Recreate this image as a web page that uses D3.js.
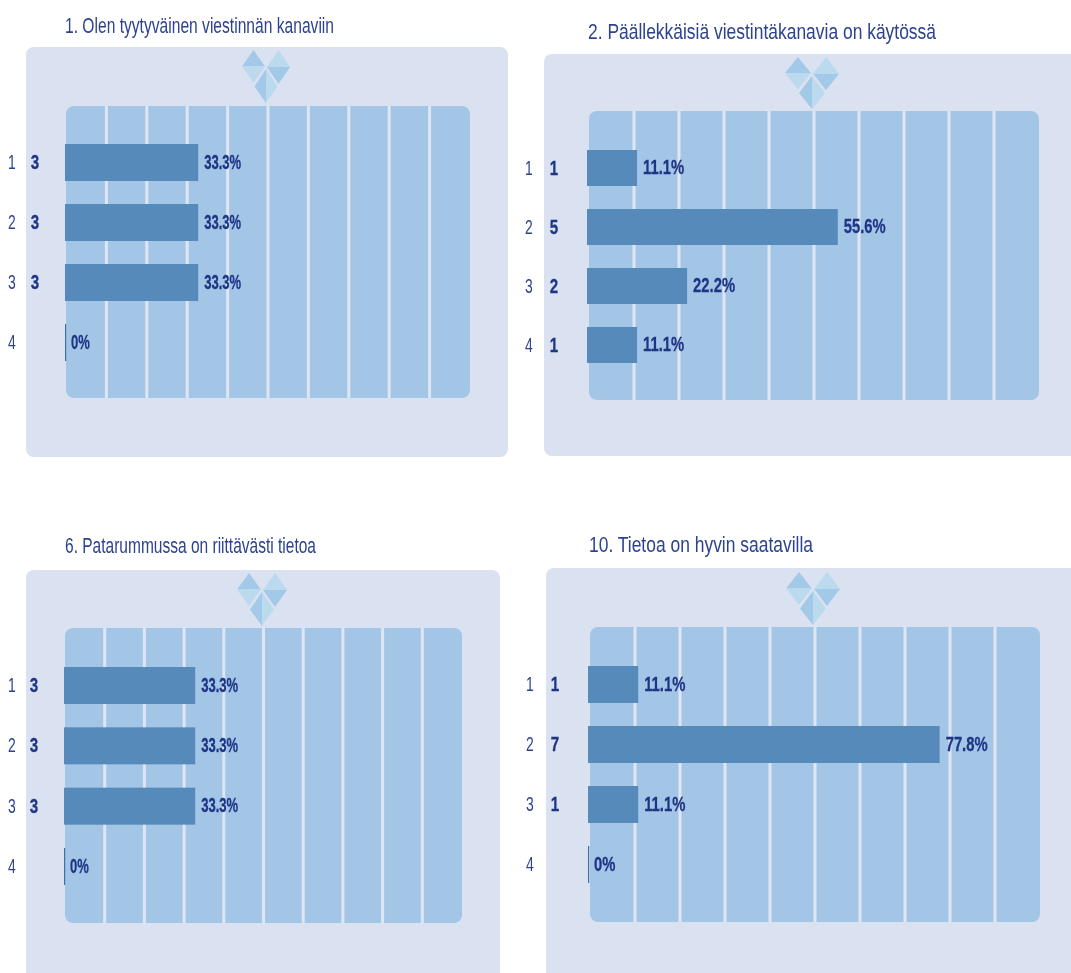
<!DOCTYPE html>
<html><head><meta charset="utf-8">
<script src="https://cdnjs.cloudflare.com/ajax/libs/d3/7.8.5/d3.min.js"></script>
<style>html,body{margin:0;padding:0;background:#fff;overflow:hidden}svg{display:block}</style>
</head><body><svg id="c" width="1071" height="973"></svg>
<script>
const titles = ["1. Olen tyytyväinen viestinnän kanaviin","2. Päällekkäisiä viestintäkanavia on käytössä","6. Patarummussa on riittävästi tietoa","10. Tietoa on hyvin saatavilla"];
const categories = ["1","2","3","4"];
const counts1 = [3,3,3,0];
const counts2 = [1,5,2,1];
const counts6 = [3,3,3,0];
const counts10 = [1,7,1,0];
const pct1 = [33.3,33.3,33.3,0];
const pct2 = [11.1,55.6,22.2,11.1];
const pct6 = [33.3,33.3,33.3,0];
const pct10 = [11.1,77.8,11.1,0];
const pctLabels = p => p === 0 ? "0%" : p.toFixed(1) + "%";

const layout = [
 {tx:65,ty:33,tw:269,bg:[26,47,482,410],plot:[66,106,404,292],bar0:65,barW:400,rows:[144,324],bh:37,lab:12,val:35,logo:[266,50,48,53],sx:.62,counts:counts1,pct:pct1},
 {tx:588,ty:39,tw:348,bg:[544,54,540,402],plot:[589,111,450,289],bar0:587,barW:451,rows:[150,327],bh:36,lab:529,val:554,logo:[812,57,54,52],sx:.705,counts:counts2,pct:pct2},
 {tx:65,ty:553,tw:251,bg:[26,570,474,420],plot:[65,628,397,295],bar0:64,barW:394,rows:[667,848],bh:37,lab:12,val:34,logo:[262,573,50,53],sx:.62,counts:counts6,pct:pct6},
 {tx:589,ty:552,tw:224,bg:[546,568,540,420],plot:[590,627,450,295],bar0:588,barW:452,rows:[666,846],bh:37,lab:530,val:555,logo:[813,572,54,53],sx:.705,counts:counts10,pct:pct10}
];
const svg = d3.select("#c");
const defs = svg.append("defs");
defs.append("filter").attr("id","soft").attr("x","-5%").attr("y","-5%").attr("width","110%").attr("height","110%")
  .append("feGaussianBlur").attr("stdDeviation",0.4);
const root = svg.append("g").attr("filter","url(#soft)");
const FONT = "'Liberation Sans',Arial,sans-serif";
const TXT = "#2d4390", VAL = "#1f3585", BG="#dae1f0", PLOT="#a3c6e7", BAR="#548abb", GRID="#dfe6f3";

function logo(g,[cx,top,w,h]){
  const x = d3.scaleLinear().domain([-1,1]).range([cx-w/2,cx+w/2]);
  const y = d3.scaleLinear().domain([0,1]).range([top,top+h]);
  const dia = (c,m,hw,t,b) => ({L:[x(c-hw),y(m)],R:[x(c+hw),y(m)],T:[x(c),y(t)],B:[x(c),y(b)],C:[x(c),y(m)]});
  const a = dia(-.52,.31,.48,0,.62), b = dia(.52,.32,.48,0,.64), c = dia(0,.69,.48,.36,1);
  const polys = [
    [[a.L,a.T,a.R],"#a3c9e8"],[[a.L,a.B,a.R],"#bcdaed"],
    [[b.L,b.T,b.R],"#bcdaed"],[[b.L,b.B,b.R],"#a3c9e8"],
    [[c.T,c.L,c.B],"#a3c9e8"],[[c.T,c.R,c.B],"#bcdaed"]
  ];
  g.selectAll("polygon.l").data(polys).join("polygon").attr("class","l")
    .attr("points",d=>d[0].map(p=>p.join(",")).join(" ")).attr("fill",d=>d[1]);
}

layout.forEach((p,i)=>{
  const g = root.append("g");
  g.append("rect").attr("x",p.bg[0]).attr("y",p.bg[1]).attr("width",p.bg[2]).attr("height",p.bg[3]).attr("rx",8).attr("fill",BG);
  g.append("text").attr("x",p.tx).attr("y",p.ty).attr("font-family",FONT).attr("font-size",22.5).attr("fill",TXT)
    .attr("textLength",p.tw).attr("lengthAdjust","spacingAndGlyphs").text(titles[i]);
  logo(g.append("g"),p.logo);
  const [px,py,pw,ph] = p.plot;
  g.append("rect").attr("x",px).attr("y",py).attr("width",pw).attr("height",ph).attr("rx",8).attr("fill",PLOT);
  const col = d3.scaleLinear().domain([0,10]).range([px,px+pw]);
  g.selectAll("line.g").data(d3.range(1,10)).join("line").attr("class","g")
    .attr("x1",d=>col(d)).attr("x2",d=>col(d)).attr("y1",py).attr("y2",py+ph)
    .attr("stroke",GRID).attr("stroke-width",3);
  const x = d3.scaleLinear().domain([0,100]).range([p.bar0,p.bar0+p.barW]);
  const y = d3.scalePoint().domain(categories).range(p.rows);
  const rows = g.selectAll("g.r").data(categories.map((c,j)=>({c,n:p.counts[j],v:p.pct[j]}))).join("g").attr("class","r");
  rows.append("rect").attr("x",x(0)).attr("y",d=>y(d.c)).attr("width",d=>Math.max(1.2,x(d.v)-x(0))).attr("height",p.bh)
    .attr("fill",d=>d.v===0?"#3f6fa5":BAR);
  const mid = (d,o)=>y(d.c)+p.bh/2+o;
  const scaled = (sel,fx,w,size,anchor,sx,o)=>sel.append("text")
    .attr("transform",d=>`translate(${fx(d)},${mid(d,o)}) scale(${sx},1)`)
    .attr("font-family",FONT).attr("font-size",size).attr("font-weight",w).attr("text-anchor",anchor);
  scaled(rows,()=>p.lab,"normal",20.5,"middle",.68,6.5).attr("fill",TXT).text(d=>d.c);
  scaled(rows.filter(d=>d.n>0),()=>p.val,"bold",21,"middle",.72,6.5).attr("fill",VAL).attr("stroke",VAL).attr("stroke-width",.3).text(d=>d.n);
  scaled(rows,d=>x(d.v)+6,"bold",20,"start",p.sx*1.05,6).attr("fill",VAL).attr("stroke",VAL).attr("stroke-width",.3).text(d=>pctLabels(d.v));
});
</script></body></html>
